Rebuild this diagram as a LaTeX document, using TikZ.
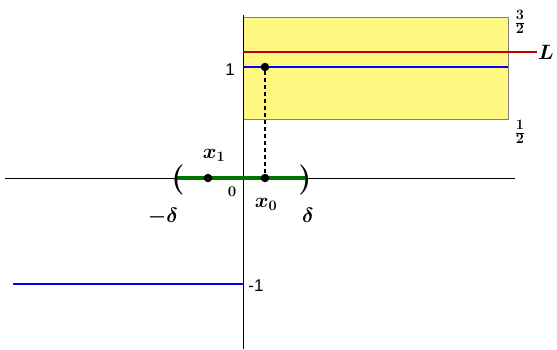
\documentclass[tikz,border=0pt]{standalone}
\usepackage{bm}
\usepackage{fontspec}
\newfontfamily\sansf{Liberation Sans}
\begin{document}
\begin{tikzpicture}[x=1pt,y=-1pt,
  ax/.style={black, line width=1pt},
  bl/.style={blue, line width=1.8pt},
  dot/.style={circle, fill=black, inner sep=0pt, minimum size=8.5pt},
  lab/.style={inner sep=1pt, font=\fontsize{21}{24}\selectfont},
  sl/.style={inner sep=1pt, font=\sansf\fontsize{17}{20}\selectfont}]
\useasboundingbox (0,0) rectangle (557,349);
% yellow box
\fill[yellow!50, draw=gray, line width=1pt] (243,17) rectangle (508,119);
% axes
\coordinate (xl) at (5,178); \coordinate (xr) at (515,178);
\coordinate (yt) at (243,15); \coordinate (yb) at (243,349);
\draw[ax] (xl) -- (xr);
\draw[ax] (yt) -- (yb);
% lines
\coordinate (rl) at (243,52); \coordinate (rr) at (537,52);
\draw[red!75!black, line width=1.8pt] (rl) -- (rr);
\node[lab, anchor=west] (L) at (rr) {$\bm{L}$};
\coordinate (bl1) at (243,67); \coordinate (br1) at (508,67);
\draw[bl] (bl1) -- (br1);
\coordinate (bl2) at (13,284); \coordinate (br2) at (243,284);
\draw[bl] (bl2) -- (br2);
% green interval
\coordinate (gl) at (177,178); \coordinate (gr) at (305,178);
\draw[green!45!black, line width=3.2pt] (gl) -- (gr);
\node[font=\fontsize{30}{34}\selectfont, inner sep=0pt] (lp) at (178,180) {\textbf{(}};
\node[font=\fontsize{30}{34}\selectfont, inner sep=0pt] (rp) at (305,180) {\textbf{)}};
% dots
\node[dot] (p) at (265,67) {};
\node[dot] (x0) at (265,178) {};
\node[dot] (x1) at (208,178) {};
\draw[dashed, line width=1.2pt, dash pattern=on 4pt off 3pt] (p) -- (x0);
% labels
\node[sl] (one) at (230,70) {1};
\node[sl] (mone) at (256,286) {-1};
\node[lab] (x1l) at (214,155) {$\bm{x_1}$};
\node[lab] (x0l) at (266,204) {$\bm{x_0}$};
\node[inner sep=1pt, font=\fontsize{15}{18}\selectfont\bfseries] (zero) at (232,192) {0};
\node[lab] (md) at (163,217) {$\bm{-\delta}$};
\node[lab] (d) at (308,215) {$\bm{\delta}$};
\node[inner sep=0pt, font=\fontsize{19}{22}\selectfont] (th) at (520,22) {$\bm{\frac{3}{2}}$};
\node[inner sep=0pt, font=\fontsize{19}{22}\selectfont] (hf) at (520,132) {$\bm{\frac{1}{2}}$};
\end{tikzpicture}
\end{document}
